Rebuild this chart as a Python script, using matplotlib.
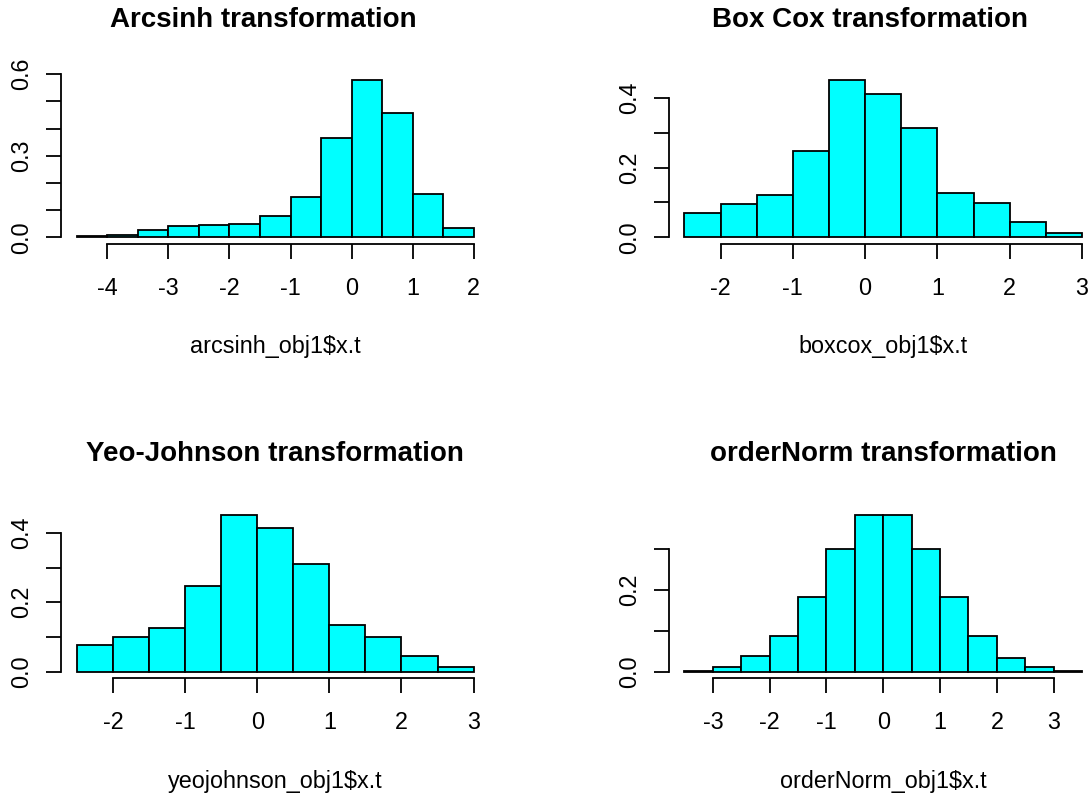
"""
Histograms of obj1 after four normalising transformations (density scale),
drawn in the look of base-R hist(): cyan bars, detached axes, sparse labels.
"""
import numpy as np
import matplotlib
matplotlib.use("Agg")
import matplotlib.pyplot as plt

# bin layout (first break, last break) and densities read per bin of width 0.5
arcsinh_range = (-4.5, 2.0)
arcsinh_density = [0.004, 0.010, 0.025, 0.040, 0.044, 0.047, 0.079,
                   0.148, 0.367, 0.578, 0.459, 0.159, 0.033]

boxcox_range = (-2.5, 3.0)
boxcox_density = [0.071, 0.096, 0.122, 0.249, 0.451, 0.411,
                  0.313, 0.128, 0.097, 0.045, 0.0125]

yeojohnson_range = (-2.5, 3.0)
yeojohnson_density = [0.076, 0.101, 0.126, 0.248, 0.452, 0.415,
                      0.310, 0.134, 0.101, 0.046, 0.014]

ordernorm_range = (-3.5, 3.5)
ordernorm_density = [0.0024, 0.0105, 0.038, 0.087, 0.183, 0.300, 0.383,
                     0.383, 0.300, 0.183, 0.088, 0.033, 0.0105, 0.0024]

titles = ["Arcsinh transformation", "Box Cox transformation",
          "Yeo-Johnson transformation", "orderNorm transformation"]
xlabels = ["arcsinh_obj1$x.t", "boxcox_obj1$x.t",
           "yeojohnson_obj1$x.t", "orderNorm_obj1$x.t"]
xticks = [[-4, -3, -2, -1, 0, 1, 2], [-2, -1, 0, 1, 2, 3],
          [-2, -1, 0, 1, 2, 3], [-3, -2, -1, 0, 1, 2, 3]]
yticks = [[0.0, 0.1, 0.2, 0.3, 0.4, 0.5, 0.6], [0.0, 0.1, 0.2, 0.3, 0.4],
          [0.0, 0.1, 0.2, 0.3, 0.4], [0.0, 0.1, 0.2, 0.3]]
ytick_labels = [["0.0", "", "", "0.3", "", "", "0.6"],
                ["0.0", "", "0.2", "", "0.4"],
                ["0.0", "", "0.2", "", "0.4"],
                ["0.0", "", "0.2", ""]]

panels = [(arcsinh_range, arcsinh_density), (boxcox_range, boxcox_density),
          (yeojohnson_range, yeojohnson_density), (ordernorm_range, ordernorm_density)]

W, H = 1088, 796
# plot regions in pixels: left, top, width, height
regions = [(61, 74, 428.5, 169.5), (668.5, 74, 429.5, 169.5),
           (61, 508.5, 428.5, 169.5), (668.5, 508.5, 429.5, 169.5)]
title_x = [0.471, 0.469, 0.5, 0.5]

plt.rcParams.update({"font.family": ["Liberation Sans", "DejaVu Sans"],
                     "font.size": 16.8})

fig = plt.figure(figsize=(W / 100, H / 100), dpi=100)
for i, ((lo, hi), dens) in enumerate(panels):
    left, top, w, h = regions[i]
    ax = fig.add_axes([left / W, 1 - (top + h) / H, w / W, h / H])
    dens = np.asarray(dens)
    edges = np.linspace(lo, hi, len(dens) + 1)
    ax.bar(edges[:-1], dens, width=np.diff(edges), align="edge",
           color="#00ffff", edgecolor="black", linewidth=1.3)

    # R-style 4% padding around the data range
    xr = hi - lo
    ax.set_xlim(lo - 0.04 * xr, hi + 0.04 * xr)
    ax.set_ylim(-0.04 * dens.max(), 1.04 * dens.max())

    ax.set_xticks(xticks[i])
    ax.set_xticklabels([str(t) for t in xticks[i]])
    ax.set_yticks(yticks[i])
    ax.set_yticklabels(ytick_labels[i], rotation=90, va="center")
    for s in ("top", "right"):
        ax.spines[s].set_visible(False)
    ax.spines["left"].set_bounds(yticks[i][0], yticks[i][-1])
    ax.spines["bottom"].set_bounds(xticks[i][0], xticks[i][-1])
    for s in ("left", "bottom"):
        ax.spines[s].set_linewidth(1.3)
    ax.tick_params(length=10.8, width=1.3, colors="black")
    ax.tick_params(axis="x", pad=13)
    ax.tick_params(axis="y", pad=9)

    ax.set_title(titles[i], fontsize=20, fontweight="bold", x=title_x[i], pad=34)
    ax.set_xlabel(xlabels[i], va="baseline")
    ax.xaxis.set_label_coords(0.5, -110 / h)

fig.savefig("out.png", dpi=100)
